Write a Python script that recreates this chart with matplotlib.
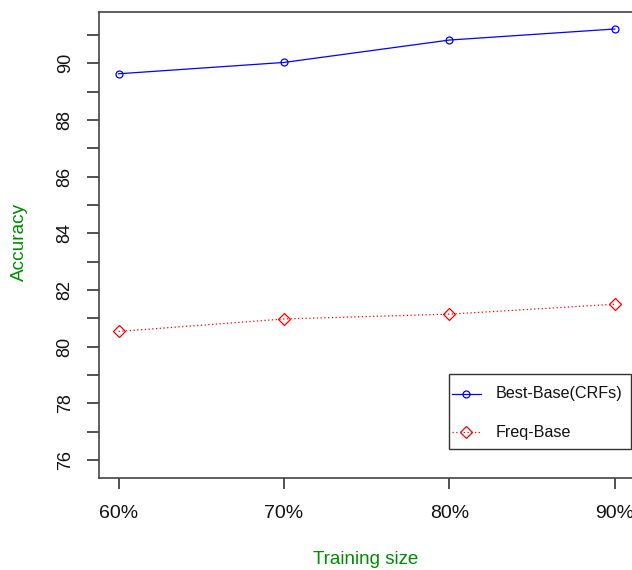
import matplotlib.pyplot as plt
from matplotlib.lines import Line2D
from matplotlib.patches import Rectangle
import numpy as np

# data
sizes = [60, 70, 80, 90]
size_labels = ["60%", "70%", "80%", "90%"]
best_base = [89.63, 90.03, 90.82, 91.21]
freq_base = [80.54, 80.98, 81.15, 81.50]
series_names = ["Best-Base(CRFs)", "Freq-Base"]

plt.rcParams['font.family'] = ['Liberation Sans', 'DejaVu Sans']

W, H = 632, 570
fig = plt.figure(figsize=(W / 100, H / 100), dpi=100)


# pixel position (from top-left) -> figure fraction
def fx(x):
    return x / W


def fy(y):
    return 1 - y / H


# axes box in pixels (right edge runs slightly off the image)
left, right, top, bottom = 98.7, 634.7, 11.7, 477.7
ax = fig.add_axes([fx(left), fy(bottom), (right - left) / W, (bottom - top) / H])

blue_style = dict(color='#0000FF', lw=0.9, marker='o', ms=5,
                  mfc='none', mec='#0000FF', mew=0.9)
red_style = dict(color='#FF0000', lw=0.9, ls=(0, (1, 2)), marker='D', ms=6,
                 mfc='none', mec='#FF0000', mew=0.9)

ax.plot(sizes, best_base, **blue_style)
ax.plot(sizes, freq_base, **red_style)

ax.set_xlim(58.8, 91.2)
ax.set_ylim(75.38, 91.82)

ax.set_xticks(sizes)
ax.set_xticklabels(size_labels)
ax.set_yticks(np.arange(76, 91, 2))
ax.set_yticks(np.arange(77, 92, 2), minor=True)
for lab in ax.get_yticklabels():
    lab.set_rotation(90)
    lab.set_va('center')

ax.tick_params(axis='both', which='both', direction='out', colors='#333333',
               labelcolor='#111111', width=1.2)
ax.tick_params(axis='y', which='both', length=9, pad=9, labelsize=13)
ax.tick_params(axis='x', which='both', length=8, pad=12, labelsize=14)

for s in ax.spines.values():
    s.set_color('#444444')
    s.set_linewidth(1.2)

fig.text(fx(19), fy(242), 'Accuracy', rotation=90, color='#008B00',
         fontsize=13.7, ha='center', va='center')
fig.text(fx(366), fy(560), 'Training size', color='#008B00',
         fontsize=13.5, ha='center', va='center')

# R-style legend box drawn by hand
fig.add_artist(Rectangle((fx(448.7), fy(449)), (631 - 448.7) / W, (449 - 374) / H,
                         transform=fig.transFigure, fill=False,
                         edgecolor='#333333', lw=1.0))
for row_y, name, style in zip([393.7, 432.3], series_names, [blue_style, red_style]):
    fig.add_artist(Line2D([fx(451.7), fx(481)], [fy(row_y), fy(row_y)],
                          transform=fig.transFigure, **{k: v for k, v in style.items() if k != 'marker'}))
    fig.add_artist(Line2D([fx(466.3)], [fy(row_y)], transform=fig.transFigure,
                          ls='none', marker=style['marker'], ms=style['ms'],
                          mfc='none', mec=style['mec'], mew=style['mew']))
    fig.text(fx(495.7), fy(row_y), name, fontsize=11.6, color='#111111',
             ha='left', va='center')

fig.savefig('out.png', dpi=100)
